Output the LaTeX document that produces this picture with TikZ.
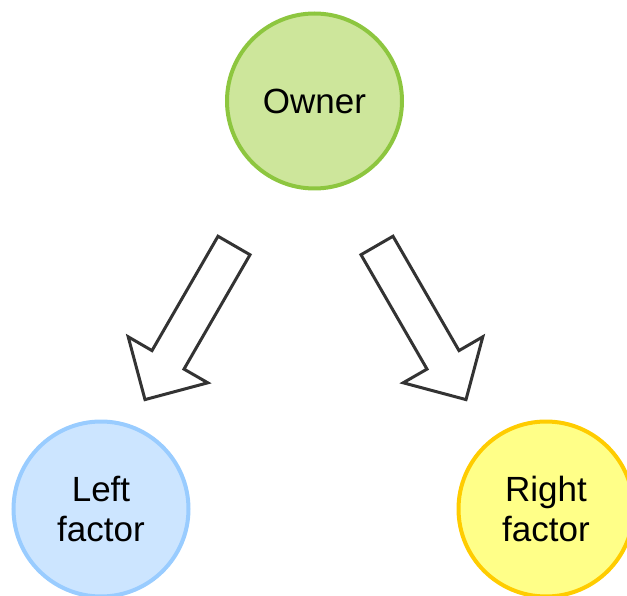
\documentclass[tikz,border=0pt]{standalone}
\usepackage{fontspec}
\setmainfont{Liberation Sans}
\definecolor{ownerfill}{HTML}{CDE69B}
\definecolor{ownerline}{HTML}{8DC63F}
\definecolor{leftfill}{HTML}{CCE5FF}
\definecolor{leftline}{HTML}{99CCFF}
\definecolor{rightfill}{HTML}{FFFF88}
\definecolor{rightline}{HTML}{FFCC00}
\definecolor{arrowline}{HTML}{333333}
\begin{document}
\begin{tikzpicture}[x=1pt,y=-1pt,
  factor/.style={circle, line width=4pt, minimum size=175pt, inner sep=0pt,
    align=center, font=\fontsize{35}{40}\selectfont},
  blockarrow/.style={draw=arrowline, fill=white, line width=3pt, line join=miter}]
\useasboundingbox (0,0) rectangle (627,596);

\node[factor, fill=ownerfill, draw=ownerline] (owner) at (314.5,101) {Owner};
\node[factor, fill=leftfill, draw=leftline] (left) at (101,509) {Left\\factor};
\node[factor, fill=rightfill, draw=rightline] (right) at (546,509) {Right\\factor};

% block arrow from the owner down to the left factor
\draw[blockarrow] (218,236.25) -- (250,254.75) -- (184,369.1) -- (207.8,382.8)
  -- (145,399.6) -- (128.2,336.8) -- (152,350.6) -- cycle;
% block arrow from the owner down to the right factor
\draw[blockarrow] (393,236.25) -- (361,254.75) -- (427,369.1) -- (403.2,382.8)
  -- (466,399.6) -- (482.8,336.8) -- (459,350.6) -- cycle;
\end{tikzpicture}
\end{document}
